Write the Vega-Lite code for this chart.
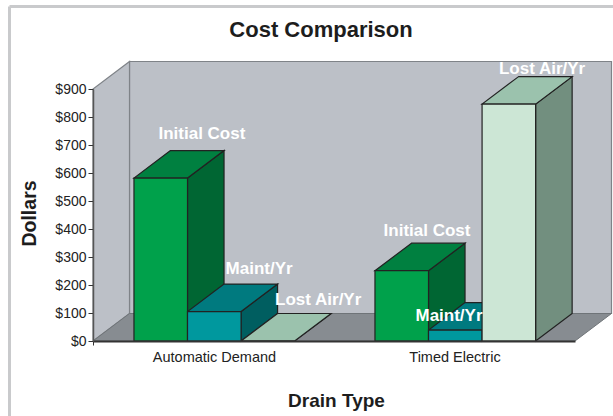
{
  "$schema": "https://vega.github.io/schema/vega-lite/v6.json",
  "width": 482,
  "height": 252,
  "autosize": "none",
  "padding": {"left": 93, "top": 89, "right": 38, "bottom": 75},
  "background": "white",
  "view": {"stroke": null},
  "title": {"text": "Cost Comparison", "font": "Liberation Sans", "fontSize": 22, "fontWeight": "bold", "color": "#1d1d1d", "offset": 0, "dy": 54, "dx": -13, "anchor": "middle", "baseline": "alphabetic"},
  "datasets": {
    "costs": [
      {"drain": "Automatic Demand", "cost": "Initial Cost", "value": 582},
      {"drain": "Automatic Demand", "cost": "Maint/Yr", "value": 105},
      {"drain": "Automatic Demand", "cost": "Lost Air/Yr", "value": 0},
      {"drain": "Timed Electric", "cost": "Initial Cost", "value": 251},
      {"drain": "Timed Electric", "cost": "Maint/Yr", "value": 39},
      {"drain": "Timed Electric", "cost": "Lost Air/Yr", "value": 846}
    ],
    "room": [{"span": 2, "wall": 900}]
  },
  "layer": [
    {
      "data": {"name": "room"},
      "transform": [
        {"calculate": "[0,1]", "as": "d"},
        {"flatten": ["d"]},
        {"calculate": "datum.d*0.1515", "as": "sx"},
        {"calculate": "datum.d*98.2", "as": "sy"},
        {"calculate": "datum.span+datum.sx", "as": "ex"},
        {"calculate": "datum.wall+datum.sy", "as": "wy"}
      ],
      "layer": [
        {
          "transform": [{"filter": "datum.d==1"}],
          "mark": {"type": "rect", "fill": "#bcc0c7", "stroke": "#7f8388", "strokeWidth": 1.2},
          "encoding": {
            "x": {"field": "sx", "type": "quantitative", "scale": {"domain": [0, 2], "nice": false}, "axis": {"values": [0], "labels": false, "ticks": true, "tickSize": 4, "tickColor": "#333333", "domainColor": "#333333", "domainWidth": 2, "grid": false, "zindex": 1, "title": "Drain Type", "titleFont": "Liberation Sans", "titleFontSize": 19, "titleFontWeight": "bold", "titleColor": "#1d1d1d", "titleX": 243, "titleY": 65, "titleBaseline": "alphabetic"}},
            "x2": {"field": "ex"},
            "y": {"field": "sy", "type": "quantitative", "scale": {"domain": [0, 900], "nice": false}, "axis": {"values": [0, 100, 200, 300, 400, 500, 600, 700, 800, 900], "tickCount": 10, "labelOverlap": false, "format": "$d", "grid": false, "zindex": 1, "tickSize": 5, "tickColor": "#333333", "domainColor": "#555555", "domainWidth": 1.5, "labelFont": "Liberation Sans", "labelFontSize": 14, "labelColor": "#222222", "labelPadding": 2, "title": "Dollars", "titleFont": "Liberation Sans", "titleFontSize": 19.5, "titleFontWeight": "bold", "titleColor": "#1d1d1d", "titleX": -54, "titleY": 124}},
            "y2": {"field": "wy"}
          }
        },
        {
          "mark": {"type": "area", "orient": "vertical", "fill": "#bcc0c7", "stroke": "#7f8388", "strokeWidth": 1.2},
          "encoding": {
            "x": {"field": "sx", "type": "quantitative"},
            "y": {"field": "sy", "type": "quantitative", "stack": null},
            "y2": {"field": "wy"}
          }
        },
        {
          "mark": {"type": "area", "orient": "horizontal", "fill": "#878c91", "stroke": "#6f7478", "strokeWidth": 1},
          "encoding": {
            "x": {"field": "sx", "type": "quantitative", "stack": null},
            "x2": {"field": "ex"},
            "y": {"field": "sy", "type": "quantitative"}
          }
        }
      ]
    },
    {
      "data": {"name": "costs"},
      "transform": [
        {"calculate": "datum.drain=='Timed Electric'?1:0", "as": "g"},
        {"calculate": "indexof(['Initial Cost','Maint/Yr','Lost Air/Yr'],datum.cost)", "as": "c"},
        {"calculate": "datum.g+0.17+datum.c*0.2222", "as": "left"},
        {"calculate": "datum.left+0.2222", "as": "right"},
        {"calculate": "[0,1]", "as": "d"},
        {"flatten": ["d"]},
        {"calculate": "datum.d*0.1515", "as": "sx"},
        {"calculate": "datum.d*98.2", "as": "sy"},
        {"calculate": "datum.left+datum.sx", "as": "lx"},
        {"calculate": "datum.right+datum.sx", "as": "rx"},
        {"calculate": "datum.value+datum.sy", "as": "ty"}
      ],
      "layer": [
        {
          "transform": [{"calculate": "datum.cost+' side'", "as": "face"}],
          "mark": {"type": "area", "orient": "vertical", "stroke": "#222222", "strokeWidth": 1.2},
          "encoding": {
            "x": {"field": "rx", "type": "quantitative"},
            "y": {"field": "sy", "type": "quantitative", "stack": null},
            "y2": {"field": "ty"},
            "detail": {"field": "drain"},
            "fill": {"field": "face", "type": "nominal", "legend": null, "scale": {
              "domain": ["Initial Cost front", "Initial Cost top", "Initial Cost side", "Maint/Yr front", "Maint/Yr top", "Maint/Yr side", "Lost Air/Yr front", "Lost Air/Yr top", "Lost Air/Yr side"],
              "range": ["#00a14b", "#008040", "#006633", "#00989e", "#007a7f", "#005e60", "#cce6d5", "#9bc2ad", "#728f7f"]}}
          }
        },
        {
          "transform": [{"calculate": "datum.cost+' top'", "as": "face"}],
          "mark": {"type": "area", "orient": "horizontal", "stroke": "#222222", "strokeWidth": 1.2},
          "encoding": {
            "x": {"field": "lx", "type": "quantitative", "stack": null},
            "x2": {"field": "rx"},
            "y": {"field": "ty", "type": "quantitative"},
            "detail": {"field": "drain"},
            "fill": {"field": "face", "type": "nominal", "legend": null}
          }
        },
        {
          "transform": [{"filter": "datum.d==0"}, {"calculate": "datum.cost+' front'", "as": "face"}],
          "mark": {"type": "rect", "stroke": "#222222", "strokeWidth": 1.2},
          "encoding": {
            "x": {"field": "left", "type": "quantitative"},
            "x2": {"field": "right"},
            "y": {"field": "value", "type": "quantitative"},
            "y2": {"datum": 0},
            "fill": {"field": "face", "type": "nominal", "legend": null}
          }
        },
        {
          "transform": [
            {"filter": "datum.d==0"},
            {"calculate": "datum.left+[0.282,0.297,0.32,0.216,0.085,0.249][datum.g*3+datum.c]", "as": "labelX"},
            {"calculate": "datum.value+[157,152,146,142,50,125][datum.g*3+datum.c]", "as": "labelY"}
          ],
          "mark": {"type": "text", "font": "Liberation Sans", "fontSize": 17, "fontWeight": "bold", "color": "#ffffff", "align": "center", "baseline": "middle"},
          "encoding": {
            "x": {"field": "labelX", "type": "quantitative"},
            "y": {"field": "labelY", "type": "quantitative"},
            "text": {"field": "cost"}
          }
        },
        {
          "transform": [
            {"filter": "datum.d==0 && datum.c==1"},
            {"calculate": "[0.504,1.502][datum.g]", "as": "nameX"}
          ],
          "mark": {"type": "text", "font": "Liberation Sans", "fontSize": 14.5, "color": "#222222", "align": "center", "baseline": "middle", "dy": 17},
          "encoding": {
            "x": {"field": "nameX", "type": "quantitative"},
            "y": {"datum": 0},
            "text": {"field": "drain"}
          }
        }
      ]
    },
    {
      "data": {"values": [{"edge": "page"}]},
      "layer": [
        {
          "mark": {"type": "rule", "color": "#c9cacc", "strokeWidth": 3},
          "encoding": {
            "x": {"datum": -0.3465},
            "y": {"datum": 1194.6},
            "y2": {"datum": -270}
          }
        },
        {
          "mark": {"type": "rule", "color": "#c9cacc", "strokeWidth": 3},
          "encoding": {
            "x": {"datum": -0.3465},
            "x2": {"datum": 2.2},
            "y": {"datum": 1194.6}
          }
        }
      ]
    }
  ]
}
